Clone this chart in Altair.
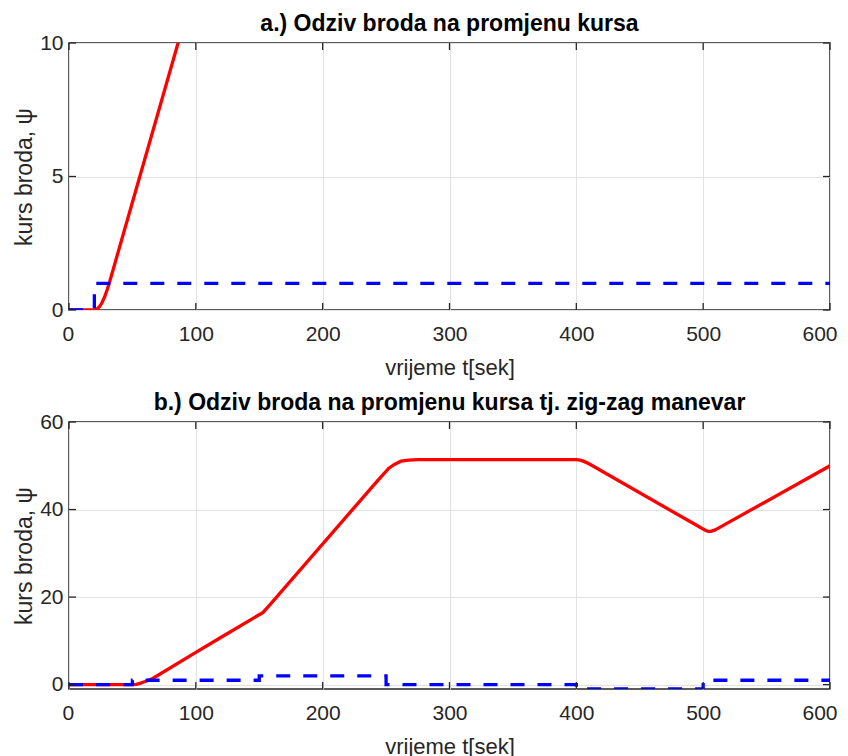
import altair as alt
import pandas as pd

# ---------------- data ----------------
# Panel a: step response
a_resp_t = [0, 20, 22, 24, 26, 28, 30, 32, 86, 100]
a_resp_psi = [0, 0, 0.03, 0.12, 0.27, 0.48, 0.75, 1.05, 10, 12.3]
a_ref_t = [0, 20, 20, 600]
a_ref_psi = [0, 0, 1, 1]

# Panel b: zig-zag manoeuvre
b_resp_t = [0, 50, 53, 56, 60, 66, 100, 117, 153, 158, 243, 252, 256.5, 261.8, 268, 275,
            400, 403, 406, 410, 502, 504, 506, 509, 512, 600]
b_resp_psi = [0, 0, 0.08, 0.3, 0.7, 1.4, 7.35, 10.3, 16.5, 18.1, 46.5, 49.4, 50.3, 51.05, 51.3, 51.4,
              51.4, 51.3, 51.0, 50.45, 35.2, 35.0, 35.0, 35.3, 35.75, 50.0]
b_ref_t = [0, 50, 50, 150, 150, 250, 250, 400, 400, 500, 500, 600]
b_ref_psi = [0, 0, 1, 1, 2, 2, 0, 0, -1, -1, 1, 1]

x_ticks = [0, 100, 200, 300, 400, 500, 600]
a_y_ticks = [0, 5, 10]
b_y_ticks = [0, 20, 40, 60]

title_a = "a.) Odziv broda na promjenu kursa"
title_b = "b.) Odziv broda na promjenu kursa tj. zig-zag manevar"
x_title = "vrijeme t[sek]"
y_title = "kurs broda, \u03c8"

W, H = 761, 267
TICK = 7
TXT = "#262626"


def frame(t, psi):
    return pd.DataFrame({"t": t, "psi": psi, "i": list(range(len(t)))})


def panel(resp_t, resp_psi, ref_t, ref_psi, ydom, yticks, title):
    xs = alt.Scale(domain=[0, 600], nice=False, zero=False)
    ys = alt.Scale(domain=ydom, nice=False, zero=False)
    xax = alt.Axis(values=x_ticks, grid=True, title=x_title, format="d",
                   labelFlush=True, labelFlushOffset=7)
    yax = alt.Axis(values=yticks, grid=True, title=y_title, format="d", labelFlush=False)
    X = alt.X("t:Q", scale=xs, axis=xax)
    Y = alt.Y("psi:Q", scale=ys, axis=yax)

    red = alt.Chart(frame(resp_t, resp_psi)).mark_line(
        color="#ff0000", strokeWidth=3.3, clip=True
    ).encode(x=X, y=Y, order="i:Q")
    blue = alt.Chart(frame(ref_t, ref_psi)).mark_line(
        color="#0000ff", strokeWidth=3.3, strokeDash=[14, 13], clip=True
    ).encode(x=X, y=Y, order="i:Q")

    xt = pd.DataFrame({"t": x_ticks})
    yt = pd.DataFrame({"psi": yticks})
    tick_style = dict(color=TXT, strokeWidth=1.3)
    xb = alt.Chart(xt).mark_rule(**tick_style).encode(x=X, y=alt.value(H), y2=alt.value(H - TICK))
    xtp = alt.Chart(xt).mark_rule(**tick_style).encode(x=X, y=alt.value(0), y2=alt.value(TICK))
    yl = alt.Chart(yt).mark_rule(**tick_style).encode(y=Y, x=alt.value(0), x2=alt.value(TICK))
    yr = alt.Chart(yt).mark_rule(**tick_style).encode(y=Y, x=alt.value(W), x2=alt.value(W - TICK))

    return alt.layer(red, blue, xb, xtp, yl, yr).properties(
        width=W, height=H,
        title=alt.TitleParams(title, fontSize=23, fontWeight="bold", color="#000000", offset=-4),
    )


top = panel(a_resp_t, a_resp_psi, a_ref_t, a_ref_psi, [0, 10], a_y_ticks, title_a)
bot = panel(b_resp_t, b_resp_psi, b_ref_t, b_ref_psi, [-1, 60], b_y_ticks, title_b)

chart = alt.vconcat(top, bot, spacing=12).properties(
    padding={"left": 4, "top": 4, "right": 0, "bottom": 0}
).configure(font="Liberation Sans").configure_view(
    stroke=TXT, strokeWidth=1.5
).configure_axis(
    domain=False, ticks=False,
    labelFontSize=21, labelColor=TXT, labelPadding=6,
    titleFontSize=22, titleFontWeight="normal", titleColor=TXT, titlePadding=10,
    gridColor="#e2e2e2", gridWidth=1,
).configure_axisX(labelPadding=13, titlePadding=13).configure_axisY(
    titleFontSize=23, titlePadding=3
).configure_title(anchor="middle")

chart.save("out.html", embed_options={"renderer": "svg", "actions": False})
